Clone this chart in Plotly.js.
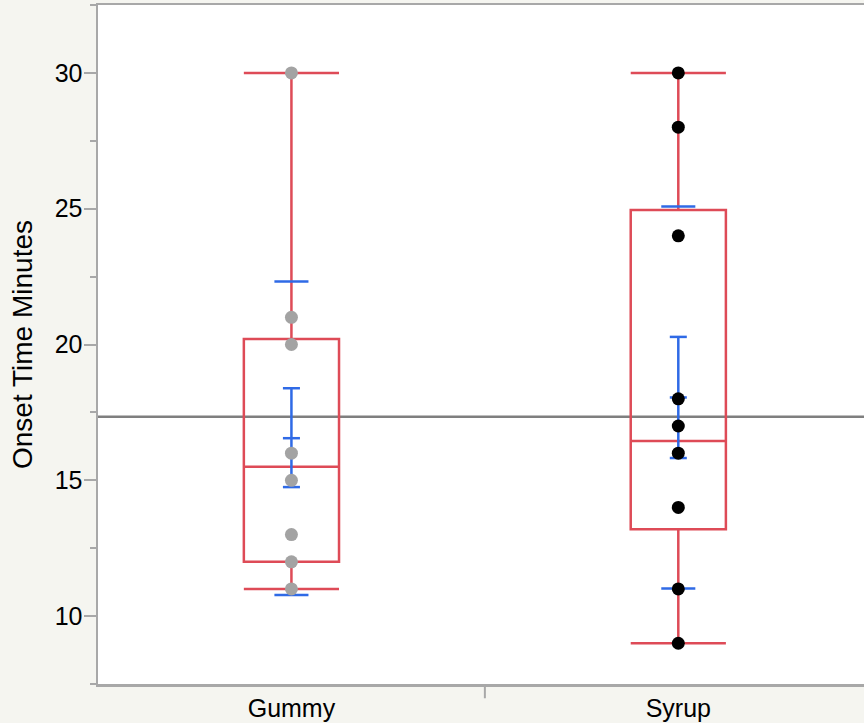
<!DOCTYPE html>
<html>
<head>
<meta charset="utf-8">
<script src="https://cdn.plot.ly/plotly-3.0.1.min.js"></script>
<style>html,body{margin:0;padding:0;background:#f5f5f0;}#chart{width:864px;height:723px;}</style>
</head>
<body>
<div id="chart"></div>
<script>
// ---- data ----
const groups = ['Gummy', 'Syrup'];
const gummyPoints = [30, 21, 20, 16, 15, 13, 12, 11];
const syrupPoints = [30, 28, 24, 18, 17, 16, 14, 11, 9];
const q1 = [12, 13.2];
const medians = [15.5, 16.45];
const q3 = [20.2, 24.95];
const lowerFence = [11, 9];
const upperFence = [30, 30];
const means = [16.55, 18.05];
const ciLow = [14.75, 15.82];
const ciHigh = [18.39, 20.28];
const stdDevs = [5.77, 7.03];
const grandMean = 17.34;
const yTicks = [10, 15, 20, 25, 30];

// ---- styles ----
const RED = '#de4b57';
const BLUE = '#2f6ae6';
const AXIS = '#a8a8a8';
const FONT = 'Liberation Sans, Arial, sans-serif';
const boxWidth = 0.246;
const capHalf = 0.022;
const sdHalf = 0.044;

const traces = [];
// boxes
groups.forEach((g, i) => {
  traces.push({
    type: 'box', name: g, x: [i],
    q1: [q1[i]], median: [medians[i]], q3: [q3[i]],
    lowerfence: [lowerFence[i]], upperfence: [upperFence[i]],
    boxpoints: false, width: boxWidth, whiskerwidth: 1,
    fillcolor: 'rgba(0,0,0,0)', line: {color: RED, width: 2.5},
    showlegend: false, hoverinfo: 'skip'
  });
});
// mean error bars and std dev lines
groups.forEach((g, i) => {
  const xs = [], ys = [];
  const seg = (x0, y0, x1, y1) => { xs.push(x0, x1, null); ys.push(y0, y1, null); };
  seg(i, ciLow[i], i, ciHigh[i]);
  seg(i - capHalf, ciLow[i], i + capHalf, ciLow[i]);
  seg(i - capHalf, ciHigh[i], i + capHalf, ciHigh[i]);
  seg(i - capHalf, means[i], i + capHalf, means[i]);
  seg(i - sdHalf, means[i] + stdDevs[i], i + sdHalf, means[i] + stdDevs[i]);
  seg(i - sdHalf, means[i] - stdDevs[i], i + sdHalf, means[i] - stdDevs[i]);
  traces.push({
    type: 'scatter', mode: 'lines', x: xs, y: ys,
    line: {color: BLUE, width: 2.5}, connectgaps: false,
    showlegend: false, hoverinfo: 'skip'
  });
});
// points
const pointSets = [gummyPoints, syrupPoints];
const pointColors = ['#a3a3a3', '#000000'];
pointSets.forEach((pts, i) => {
  traces.push({
    type: 'scatter', mode: 'markers',
    x: pts.map(() => i), y: pts,
    marker: {size: 13, color: pointColors[i]},
    showlegend: false, hoverinfo: 'skip'
  });
});

const xRange = [-0.5, 1.48];
const dividerPaper = (0.5 - xRange[0]) / (xRange[1] - xRange[0]);

const layout = {
  width: 864, height: 723,
  margin: {l: 98, r: 0, t: 5, b: 39},
  paper_bgcolor: '#f5f5f0', plot_bgcolor: '#ffffff',
  showlegend: false,
  xaxis: {
    range: xRange, tickvals: [0, 1], ticktext: groups,
    ticks: '',
    showline: true, linecolor: AXIS, linewidth: 2.5, mirror: true,
    showgrid: false, zeroline: false,
    tickfont: {family: FONT, size: 25, color: '#000'}
  },
  yaxis: {
    range: [7.5, 32.5], tickvals: yTicks,
    ticks: 'outside', ticklen: 12, tickwidth: 2, tickcolor: AXIS,
    ticklabelstandoff: -4,
    minor: {dtick: 2.5, tick0: 0, ticks: 'outside', ticklen: 6, tickwidth: 2, tickcolor: AXIS, showgrid: false},
    showline: true, linecolor: AXIS, linewidth: 2.5,
    showgrid: false, zeroline: false,
    tickfont: {family: FONT, size: 25, color: '#000'},
    title: {text: 'Onset Time Minutes', font: {family: FONT, size: 28, color: '#000'}, standoff: 14}
  },
  shapes: [
    {type: 'line', xref: 'paper', yref: 'y', x0: 0, x1: 1, y0: grandMean, y1: grandMean,
     line: {color: '#7f7f7f', width: 2.5}, layer: 'below'},
    {type: 'line', xref: 'paper', yref: 'paper', x0: dividerPaper, x1: dividerPaper, y0: 0, y1: -0.021,
     line: {color: AXIS, width: 2}}
  ]
};

Plotly.newPlot('chart', traces, layout, {staticPlot: true});
</script>
</body>
</html>
